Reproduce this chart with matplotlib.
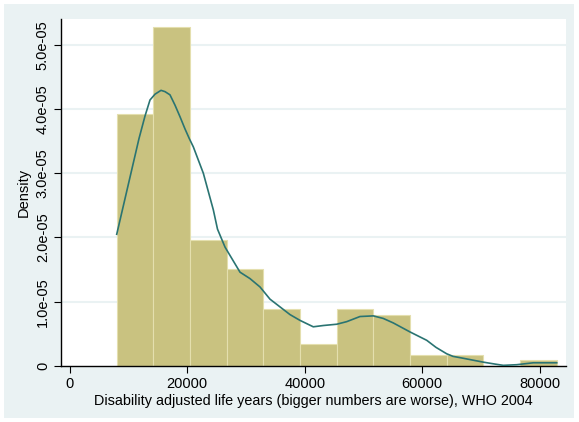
import numpy as np
import matplotlib
matplotlib.use("Agg")
import matplotlib.pyplot as plt
from matplotlib.patches import Rectangle

# histogram bins (DALYs, WHO 2004), density
bin_left = 8030
bin_width = 6236
bar_density = [3.92e-5, 5.27e-5, 1.96e-5, 1.51e-5, 0.894e-5, 0.349e-5,
               0.894e-5, 0.80e-5, 0.178e-5, 0.178e-5, 0.0, 0.089e-5]

# kernel density curve, read point by point (units of 1e-5)
kde_x = [8030, 11820, 12840, 13690, 14540, 15560, 16240, 17090, 17940, 18790,
         19640, 20370, 21060, 22760, 24460, 25170, 26450, 27300, 29000, 30700,
         32400, 34100, 35800, 37500, 39200, 41460, 43160, 45440, 47140, 49400,
         51670, 53370, 55070, 57910, 60750, 62330, 64150, 65220, 66410, 68110,
         70370, 72360, 73780, 76050, 78880, 82860]
kde_y = [2.05, 3.54, 3.89, 4.14, 4.23, 4.29, 4.27, 4.22, 4.06, 3.88,
         3.69, 3.54, 3.41, 3.00, 2.43, 2.13, 1.85, 1.72, 1.46, 1.36,
         1.23, 1.04, 0.92, 0.80, 0.71, 0.61, 0.63, 0.65, 0.69, 0.77,
         0.78, 0.74, 0.67, 0.53, 0.40, 0.29, 0.19, 0.15, 0.13, 0.10,
         0.06, 0.03, 0.01, 0.02, 0.05, 0.05]

x_ticks = [0, 20000, 40000, 60000, 80000]
y_ticks = [0, 1e-5, 2e-5, 3e-5, 4e-5, 5e-5]
y_labels = ["0", "1.0e-05", "2.0e-05", "3.0e-05", "4.0e-05", "5.0e-05"]

plt.rcParams['font.family'] = ['Liberation Sans', 'DejaVu Sans']

W, H = 579, 422
fig = plt.figure(figsize=(W / 100, H / 100), dpi=100, facecolor='white')
fig.patches.append(Rectangle((4 / W, 4 / H), 570 / W, 414 / H, transform=fig.transFigure,
                             facecolor='#eaf2f3', edgecolor='none', zorder=-1))

ax = fig.add_axes([61 / W, (H - 366) / H, 505 / W, 347.3 / H])
ax.set_zorder(2)
ax.set_facecolor('white')

edges = bin_left + bin_width * np.arange(len(bar_density))
ax.bar(edges, bar_density, width=bin_width, align='edge', color='#c9c280',
       edgecolor='#e4dfae', linewidth=0.8, zorder=2)
ax.plot(kde_x, np.array(kde_y) * 1e-5, color='#2a7472', linewidth=1.2, zorder=3,
        solid_joinstyle='round')

ax.set_xlim(-1446, 84440)
ax.set_ylim(0, 5.405e-5)
ax.set_xticks(x_ticks)
ax.set_xticklabels([str(t) for t in x_ticks])
ax.set_yticks(y_ticks)
ax.set_yticklabels(y_labels, rotation=90, va='center')
for t in y_ticks[1:]:
    ax.axhline(t, color='#eaf2f3', linewidth=1.5, zorder=1)

for s in ['top', 'right']:
    ax.spines[s].set_visible(False)
for s in ['left', 'bottom']:
    ax.spines[s].set_linewidth(1.0)
    ax.spines[s].set_color('black')
ax.tick_params(axis='both', length=5, width=0.8, labelsize=10.5, pad=3)

ax.set_ylabel('Density', fontsize=10.5, labelpad=4)
ax.set_xlabel('Disability adjusted life years (bigger numbers are worse), WHO 2004',
              fontsize=10.4, labelpad=2)

fig.savefig('out.png', dpi=100, facecolor='white')
